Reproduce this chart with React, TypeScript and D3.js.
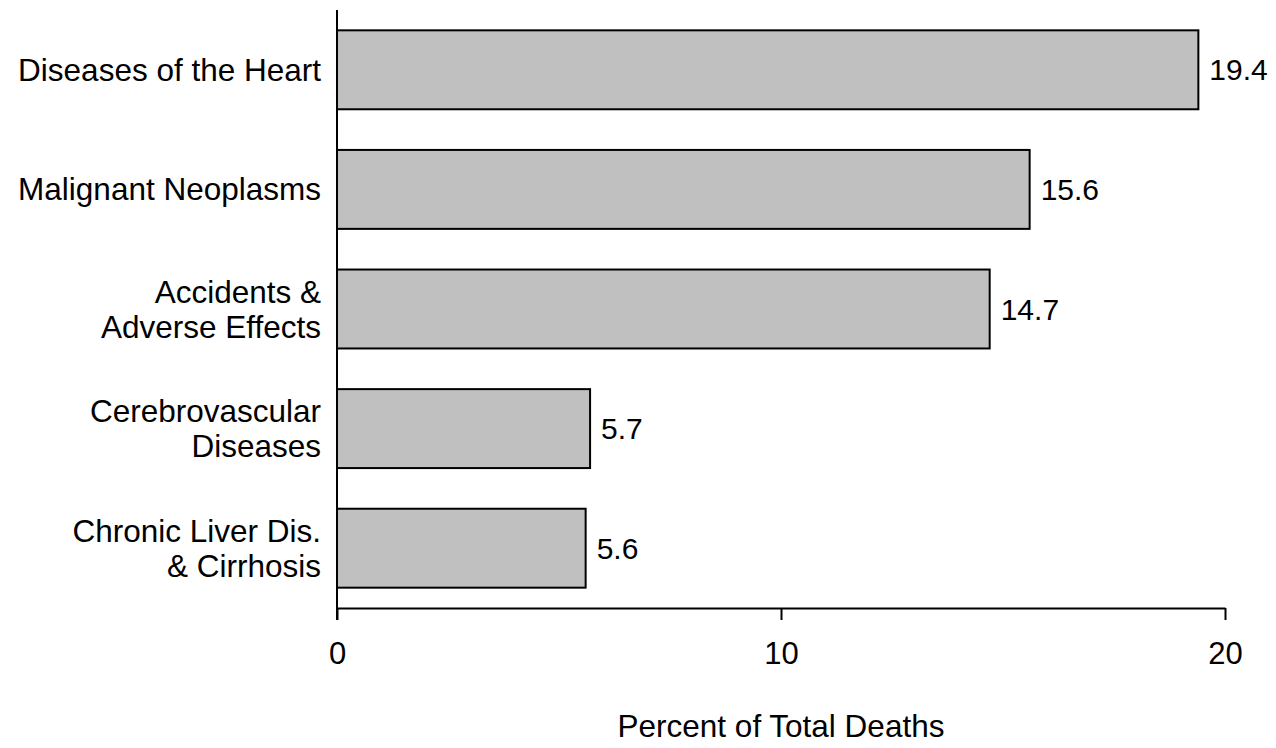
import { useEffect, useRef } from 'react'
import * as d3 from 'd3'

// Leading causes of death, percent of total deaths
const causes: string[][] = [
  ['Diseases of the Heart'],
  ['Malignant Neoplasms'],
  ['Accidents &', 'Adverse Effects'],
  ['Cerebrovascular', 'Diseases'],
  ['Chronic Liver Dis.', '& Cirrhosis'],
]
const percents: number[] = [19.4, 15.6, 14.7, 5.7, 5.6]
const xTicks: number[] = [0, 10, 20]

const W = 1276
const H = 748

export default function App() {
  const svgRef = useRef<SVGSVGElement>(null)

  useEffect(() => {
    if (!svgRef.current) return
    const svg = d3.select(svgRef.current)
    svg.selectAll('*').remove()

    const font = '"Liberation Sans", Arial, sans-serif'
    const left = 337
    const right = 1225
    const top = 10
    const bottom = 608

    const x = d3.scaleLinear().domain([0, 20]).range([left, right])
    const y = d3
      .scaleBand<number>()
      .domain(d3.range(causes.length))
      .range([top, bottom])
      .paddingInner(0.34)
      .paddingOuter(0.17)

    // bars
    svg
      .append('g')
      .selectAll('rect')
      .data(percents)
      .enter()
      .append('rect')
      .attr('x', x(0))
      .attr('y', (_, i) => y(i)!)
      .attr('width', (d) => x(d) - x(0))
      .attr('height', y.bandwidth())
      .attr('fill', '#c0c0c0')
      .attr('stroke', '#000')
      .attr('stroke-width', 2)

    // value labels
    svg
      .append('g')
      .selectAll('text')
      .data(percents)
      .enter()
      .append('text')
      .attr('x', (d) => x(d) + 11)
      .attr('y', (_, i) => y(i)! + y.bandwidth() / 2)
      .attr('dy', '0.35em')
      .attr('font-family', font)
      .attr('font-size', 30)
      .attr('fill', '#000')
      .text((d) => d.toFixed(1))

    // category labels
    const lineH = 35
    causes.forEach((lines, i) => {
      const cy = y(i)! + y.bandwidth() / 2
      const t = svg
        .append('text')
        .attr('text-anchor', 'end')
        .attr('font-family', font)
        .attr('font-size', 31.5)
        .attr('fill', '#000')
      lines.forEach((ln, j) => {
        t.append('tspan')
          .attr('x', left - 16)
          .attr('y', cy + (j - (lines.length - 1) / 2) * lineH)
          .attr('dy', '0.35em')
          .text(ln)
      })
    })

    // y axis line (extends below the x axis as a tick)
    svg
      .append('line')
      .attr('x1', left)
      .attr('x2', left)
      .attr('y1', top)
      .attr('y2', bottom + 12)
      .attr('stroke', '#000')
      .attr('stroke-width', 2)

    // x axis
    const xAxis = svg
      .append('g')
      .attr('transform', `translate(0,${bottom})`)
      .call(d3.axisBottom(x).tickValues(xTicks).tickSize(12).tickPadding(22).tickSizeOuter(0))
    xAxis.select('.domain').attr('stroke', '#000').attr('stroke-width', 2)
    xAxis.selectAll('.tick line').attr('stroke', '#000').attr('stroke-width', 2)
    xAxis
      .selectAll('.tick text')
      .attr('fill', '#000')
      .attr('font-family', font)
      .attr('font-size', 31)

    // axis title
    svg
      .append('text')
      .attr('x', (left + right) / 2)
      .attr('y', 737)
      .attr('text-anchor', 'middle')
      .attr('font-family', font)
      .attr('font-size', 31.5)
      .attr('fill', '#000')
      .text('Percent of Total Deaths')
  }, [])

  return (
    <svg
      ref={svgRef}
      width={W}
      height={H}
      style={{ position: 'absolute', left: 0, top: 0, background: '#fff' }}
    />
  )
}
